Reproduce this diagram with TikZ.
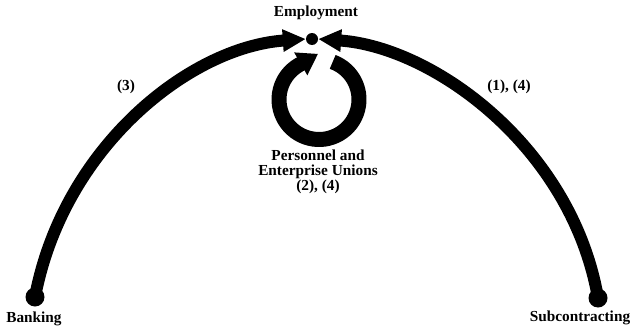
\documentclass[tikz,border=0pt]{standalone}
\usepackage{fontspec}
\setmainfont{Liberation Serif}
\usetikzlibrary{arrows.meta}
\begin{document}
\begin{tikzpicture}[x=1pt,y=1pt,
  lbl/.style={font=\bfseries\fontsize{15.3}{15}\selectfont, inner sep=0pt},
  mainarc/.style={line width=12pt, -{Triangle[length=23pt,width=21pt]}},
  ringarc/.style={line width=15pt, -{Triangle[length=20pt,width=25pt]}},
  blob/.style={circle, fill=black, inner sep=0pt}]
\useasboundingbox (0,0) rectangle (632,-332);
\node[blob, minimum size=12pt] (emp) at (312,-39) {};
\node[blob, minimum size=19pt] (bank) at (35,-297) {};
\node[blob, minimum size=19pt] (sub) at (598,-298) {};
\draw[mainarc] (bank.center) .. controls (63.5,-147) and (190,-47) .. (emp.west);
\draw[mainarc] (sub.center) .. controls (572,-148) and (434,-47) .. (emp.east);
\coordinate (rc) at (319,-99.5);
\draw[ringarc] (rc) ++(70:40) arc[start angle=70,end angle=-240,radius=40] -- ++(30:22);
\node[lbl] (empl) at (316,-13) {Employment};
\node[lbl] (l3) at (126,-87) {(3)};
\node[lbl] (l14) at (509,-87) {(1), (4)};
\node[lbl, align=center] (pers) at (318,-172) {Personnel and\\Enterprise Unions\\(2), (4)};
\node[lbl] (bankl) at (34,-319) {Banking};
\node[lbl] (subl) at (580,-318) {Subcontracting};
\end{tikzpicture}
\end{document}
